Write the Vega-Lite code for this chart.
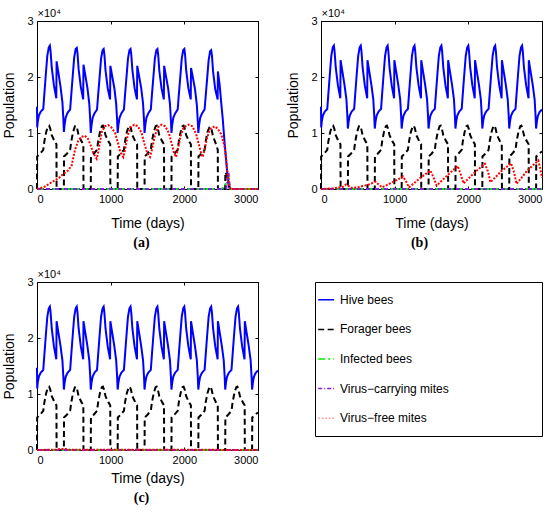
{
"$schema": "https://vega.github.io/schema/vega-lite/v6.json",
"padding": {"left": 2, "top": 7, "right": 0, "bottom": 0},
"config": {
  "font": "Liberation Sans",
  "view": {"stroke": "black", "strokeWidth": 1},
  "axis": {"grid": false, "domain": false, "tickColor": "black", "tickSize": -3, "tickWidth": 1, "labelColor": "black", "labelFont": "Liberation Sans", "labelFontSize": 11, "labelPadding": 7, "titleFont": "Liberation Sans", "titleFontSize": 14, "titleFontWeight": "normal", "titleColor": "black"},
  "axisLeft": {"titlePadding": 10},
  "axisBottom": {"titlePadding": 6}
},
"datasets": {
"leg": [
{"s":"H","label":"Hive bees"},{"s":"F","label":"Forager bees"},{"s":"I","label":"Infected bees"},{"s":"C","label":"Virus−carrying mites"},{"s":"M","label":"Virus−free mites"}
],
"lines": [
{"p":"bc","s":"H","t":0,"v":1.47},{"p":"bc","s":"H","t":3,"v":1.1},{"p":"bc","s":"H","t":10,"v":1.2},{"p":"bc","s":"H","t":25,"v":1.31},{"p":"bc","s":"H","t":50,"v":1.38},{"p":"bc","s":"H","t":85,"v":1.43},{"p":"bc","s":"H","t":100,"v":1.7},{"p":"bc","s":"H","t":120,"v":2.05},{"p":"bc","s":"H","t":140,"v":2.38},{"p":"bc","s":"H","t":160,"v":2.53},{"p":"bc","s":"H","t":175,"v":2.56},{"p":"bc","s":"H","t":185,"v":2.45},{"p":"bc","s":"H","t":200,"v":2.17},{"p":"bc","s":"H","t":230,"v":1.85},{"p":"bc","s":"H","t":262,"v":1.62},{"p":"bc","s":"H","t":266,"v":2.3},{"p":"bc","s":"H","t":290,"v":2.1},{"p":"bc","s":"H","t":320,"v":1.85},{"p":"bc","s":"H","t":345,"v":1.6},{"p":"bc","s":"H","t":358,"v":1.3},
{"p":"bc","s":"H","t":365,"v":1.08},{"p":"bc","s":"H","t":375,"v":1.2},{"p":"bc","s":"H","t":390,"v":1.31},{"p":"bc","s":"H","t":415,"v":1.38},{"p":"bc","s":"H","t":450,"v":1.43},{"p":"bc","s":"H","t":465,"v":1.7},{"p":"bc","s":"H","t":485,"v":2.05},{"p":"bc","s":"H","t":505,"v":2.38},{"p":"bc","s":"H","t":525,"v":2.53},{"p":"bc","s":"H","t":540,"v":2.56},{"p":"bc","s":"H","t":550,"v":2.45},{"p":"bc","s":"H","t":565,"v":2.17},{"p":"bc","s":"H","t":595,"v":1.85},{"p":"bc","s":"H","t":627,"v":1.62},{"p":"bc","s":"H","t":631,"v":2.3},{"p":"bc","s":"H","t":655,"v":2.1},{"p":"bc","s":"H","t":685,"v":1.85},{"p":"bc","s":"H","t":710,"v":1.6},{"p":"bc","s":"H","t":723,"v":1.3},
{"p":"bc","s":"H","t":730,"v":1.08},{"p":"bc","s":"H","t":740,"v":1.2},{"p":"bc","s":"H","t":755,"v":1.31},{"p":"bc","s":"H","t":780,"v":1.38},{"p":"bc","s":"H","t":815,"v":1.43},{"p":"bc","s":"H","t":830,"v":1.7},{"p":"bc","s":"H","t":850,"v":2.05},{"p":"bc","s":"H","t":870,"v":2.38},{"p":"bc","s":"H","t":890,"v":2.53},{"p":"bc","s":"H","t":905,"v":2.56},{"p":"bc","s":"H","t":915,"v":2.45},{"p":"bc","s":"H","t":930,"v":2.17},{"p":"bc","s":"H","t":960,"v":1.85},{"p":"bc","s":"H","t":992,"v":1.62},{"p":"bc","s":"H","t":996,"v":2.3},{"p":"bc","s":"H","t":1020,"v":2.1},{"p":"bc","s":"H","t":1050,"v":1.85},{"p":"bc","s":"H","t":1075,"v":1.6},{"p":"bc","s":"H","t":1088,"v":1.3},
{"p":"bc","s":"H","t":1095,"v":1.08},{"p":"bc","s":"H","t":1105,"v":1.2},{"p":"bc","s":"H","t":1120,"v":1.31},{"p":"bc","s":"H","t":1145,"v":1.38},{"p":"bc","s":"H","t":1180,"v":1.43},{"p":"bc","s":"H","t":1195,"v":1.7},{"p":"bc","s":"H","t":1215,"v":2.05},{"p":"bc","s":"H","t":1235,"v":2.38},{"p":"bc","s":"H","t":1255,"v":2.53},{"p":"bc","s":"H","t":1270,"v":2.56},{"p":"bc","s":"H","t":1280,"v":2.45},{"p":"bc","s":"H","t":1295,"v":2.17},{"p":"bc","s":"H","t":1325,"v":1.85},{"p":"bc","s":"H","t":1357,"v":1.62},{"p":"bc","s":"H","t":1361,"v":2.3},{"p":"bc","s":"H","t":1385,"v":2.1},{"p":"bc","s":"H","t":1415,"v":1.85},{"p":"bc","s":"H","t":1440,"v":1.6},{"p":"bc","s":"H","t":1453,"v":1.3},
{"p":"bc","s":"H","t":1460,"v":1.08},{"p":"bc","s":"H","t":1470,"v":1.2},{"p":"bc","s":"H","t":1485,"v":1.31},{"p":"bc","s":"H","t":1510,"v":1.38},{"p":"bc","s":"H","t":1545,"v":1.43},{"p":"bc","s":"H","t":1560,"v":1.7},{"p":"bc","s":"H","t":1580,"v":2.05},{"p":"bc","s":"H","t":1600,"v":2.38},{"p":"bc","s":"H","t":1620,"v":2.53},{"p":"bc","s":"H","t":1635,"v":2.56},{"p":"bc","s":"H","t":1645,"v":2.45},{"p":"bc","s":"H","t":1660,"v":2.17},{"p":"bc","s":"H","t":1690,"v":1.85},{"p":"bc","s":"H","t":1722,"v":1.62},{"p":"bc","s":"H","t":1726,"v":2.3},{"p":"bc","s":"H","t":1750,"v":2.1},{"p":"bc","s":"H","t":1780,"v":1.85},{"p":"bc","s":"H","t":1805,"v":1.6},{"p":"bc","s":"H","t":1818,"v":1.3},
{"p":"bc","s":"H","t":1825,"v":1.08},{"p":"bc","s":"H","t":1835,"v":1.2},{"p":"bc","s":"H","t":1850,"v":1.31},{"p":"bc","s":"H","t":1875,"v":1.38},{"p":"bc","s":"H","t":1910,"v":1.43},{"p":"bc","s":"H","t":1925,"v":1.7},{"p":"bc","s":"H","t":1945,"v":2.05},{"p":"bc","s":"H","t":1965,"v":2.38},{"p":"bc","s":"H","t":1985,"v":2.53},{"p":"bc","s":"H","t":2000,"v":2.56},{"p":"bc","s":"H","t":2010,"v":2.45},{"p":"bc","s":"H","t":2025,"v":2.17},{"p":"bc","s":"H","t":2055,"v":1.85},{"p":"bc","s":"H","t":2087,"v":1.62},{"p":"bc","s":"H","t":2091,"v":2.3},{"p":"bc","s":"H","t":2115,"v":2.1},{"p":"bc","s":"H","t":2145,"v":1.85},{"p":"bc","s":"H","t":2170,"v":1.6},{"p":"bc","s":"H","t":2183,"v":1.3},
{"p":"bc","s":"H","t":2190,"v":1.08},{"p":"bc","s":"H","t":2200,"v":1.2},{"p":"bc","s":"H","t":2215,"v":1.31},{"p":"bc","s":"H","t":2240,"v":1.38},{"p":"bc","s":"H","t":2275,"v":1.43},{"p":"bc","s":"H","t":2290,"v":1.7},{"p":"bc","s":"H","t":2310,"v":2.05},{"p":"bc","s":"H","t":2330,"v":2.38},{"p":"bc","s":"H","t":2350,"v":2.53},{"p":"bc","s":"H","t":2365,"v":2.56},{"p":"bc","s":"H","t":2375,"v":2.45},{"p":"bc","s":"H","t":2390,"v":2.17},{"p":"bc","s":"H","t":2420,"v":1.85},{"p":"bc","s":"H","t":2452,"v":1.62},{"p":"bc","s":"H","t":2456,"v":2.3},{"p":"bc","s":"H","t":2480,"v":2.1},{"p":"bc","s":"H","t":2510,"v":1.85},{"p":"bc","s":"H","t":2535,"v":1.6},{"p":"bc","s":"H","t":2548,"v":1.3},
{"p":"bc","s":"H","t":2555,"v":1.08},{"p":"bc","s":"H","t":2565,"v":1.2},{"p":"bc","s":"H","t":2580,"v":1.31},{"p":"bc","s":"H","t":2605,"v":1.38},{"p":"bc","s":"H","t":2640,"v":1.43},{"p":"bc","s":"H","t":2655,"v":1.7},{"p":"bc","s":"H","t":2675,"v":2.05},{"p":"bc","s":"H","t":2695,"v":2.38},{"p":"bc","s":"H","t":2715,"v":2.53},{"p":"bc","s":"H","t":2730,"v":2.56},{"p":"bc","s":"H","t":2740,"v":2.45},{"p":"bc","s":"H","t":2755,"v":2.17},{"p":"bc","s":"H","t":2785,"v":1.85},{"p":"bc","s":"H","t":2817,"v":1.62},{"p":"bc","s":"H","t":2821,"v":2.3},{"p":"bc","s":"H","t":2845,"v":2.1},{"p":"bc","s":"H","t":2875,"v":1.85},{"p":"bc","s":"H","t":2900,"v":1.6},{"p":"bc","s":"H","t":2913,"v":1.3},
{"p":"bc","s":"H","t":2920,"v":1.08},{"p":"bc","s":"H","t":2930,"v":1.2},{"p":"bc","s":"H","t":2945,"v":1.31},{"p":"bc","s":"H","t":2970,"v":1.38},{"p":"bc","s":"H","t":3000,"v":1.42},

{"p":"a","s":"H","t":0,"v":1.47},{"p":"a","s":"H","t":3,"v":1.1},{"p":"a","s":"H","t":10,"v":1.2},{"p":"a","s":"H","t":25,"v":1.31},{"p":"a","s":"H","t":50,"v":1.38},{"p":"a","s":"H","t":85,"v":1.43},{"p":"a","s":"H","t":100,"v":1.7},{"p":"a","s":"H","t":120,"v":2.05},{"p":"a","s":"H","t":140,"v":2.38},{"p":"a","s":"H","t":160,"v":2.53},{"p":"a","s":"H","t":175,"v":2.56},{"p":"a","s":"H","t":185,"v":2.45},{"p":"a","s":"H","t":200,"v":2.17},{"p":"a","s":"H","t":230,"v":1.85},{"p":"a","s":"H","t":262,"v":1.62},{"p":"a","s":"H","t":266,"v":2.28},{"p":"a","s":"H","t":290,"v":2.08},{"p":"a","s":"H","t":320,"v":1.82},{"p":"a","s":"H","t":345,"v":1.55},{"p":"a","s":"H","t":358,"v":1.25},
{"p":"a","s":"H","t":365,"v":1.02},{"p":"a","s":"H","t":375,"v":1.15},{"p":"a","s":"H","t":390,"v":1.28},{"p":"a","s":"H","t":415,"v":1.36},{"p":"a","s":"H","t":450,"v":1.42},{"p":"a","s":"H","t":465,"v":1.68},{"p":"a","s":"H","t":485,"v":2.02},{"p":"a","s":"H","t":505,"v":2.35},{"p":"a","s":"H","t":525,"v":2.5},{"p":"a","s":"H","t":540,"v":2.52},{"p":"a","s":"H","t":550,"v":2.42},{"p":"a","s":"H","t":565,"v":2.14},{"p":"a","s":"H","t":595,"v":1.82},{"p":"a","s":"H","t":627,"v":1.6},{"p":"a","s":"H","t":631,"v":2.22},{"p":"a","s":"H","t":655,"v":2.04},{"p":"a","s":"H","t":685,"v":1.8},{"p":"a","s":"H","t":710,"v":1.52},{"p":"a","s":"H","t":723,"v":1.22},
{"p":"a","s":"H","t":730,"v":1.0},{"p":"a","s":"H","t":740,"v":1.14},{"p":"a","s":"H","t":755,"v":1.27},{"p":"a","s":"H","t":780,"v":1.35},{"p":"a","s":"H","t":815,"v":1.42},{"p":"a","s":"H","t":830,"v":1.68},{"p":"a","s":"H","t":850,"v":2.0},{"p":"a","s":"H","t":870,"v":2.33},{"p":"a","s":"H","t":890,"v":2.48},{"p":"a","s":"H","t":905,"v":2.5},{"p":"a","s":"H","t":915,"v":2.4},{"p":"a","s":"H","t":930,"v":2.12},{"p":"a","s":"H","t":960,"v":1.8},{"p":"a","s":"H","t":992,"v":1.6},{"p":"a","s":"H","t":996,"v":2.2},{"p":"a","s":"H","t":1020,"v":2.02},{"p":"a","s":"H","t":1050,"v":1.8},{"p":"a","s":"H","t":1075,"v":1.52},{"p":"a","s":"H","t":1088,"v":1.22},
{"p":"a","s":"H","t":1095,"v":1.0},{"p":"a","s":"H","t":1105,"v":1.14},{"p":"a","s":"H","t":1120,"v":1.27},{"p":"a","s":"H","t":1145,"v":1.35},{"p":"a","s":"H","t":1180,"v":1.42},{"p":"a","s":"H","t":1195,"v":1.68},{"p":"a","s":"H","t":1215,"v":2.0},{"p":"a","s":"H","t":1235,"v":2.33},{"p":"a","s":"H","t":1255,"v":2.48},{"p":"a","s":"H","t":1270,"v":2.5},{"p":"a","s":"H","t":1280,"v":2.4},{"p":"a","s":"H","t":1295,"v":2.12},{"p":"a","s":"H","t":1325,"v":1.8},{"p":"a","s":"H","t":1357,"v":1.6},{"p":"a","s":"H","t":1361,"v":2.2},{"p":"a","s":"H","t":1385,"v":2.02},{"p":"a","s":"H","t":1415,"v":1.8},{"p":"a","s":"H","t":1440,"v":1.52},{"p":"a","s":"H","t":1453,"v":1.22},
{"p":"a","s":"H","t":1460,"v":1.0},{"p":"a","s":"H","t":1470,"v":1.14},{"p":"a","s":"H","t":1485,"v":1.27},{"p":"a","s":"H","t":1510,"v":1.35},{"p":"a","s":"H","t":1545,"v":1.42},{"p":"a","s":"H","t":1560,"v":1.68},{"p":"a","s":"H","t":1580,"v":2.0},{"p":"a","s":"H","t":1600,"v":2.33},{"p":"a","s":"H","t":1620,"v":2.48},{"p":"a","s":"H","t":1635,"v":2.5},{"p":"a","s":"H","t":1645,"v":2.4},{"p":"a","s":"H","t":1660,"v":2.12},{"p":"a","s":"H","t":1690,"v":1.8},{"p":"a","s":"H","t":1722,"v":1.6},{"p":"a","s":"H","t":1726,"v":2.2},{"p":"a","s":"H","t":1750,"v":2.02},{"p":"a","s":"H","t":1780,"v":1.8},{"p":"a","s":"H","t":1805,"v":1.52},{"p":"a","s":"H","t":1818,"v":1.22},
{"p":"a","s":"H","t":1825,"v":1.0},{"p":"a","s":"H","t":1835,"v":1.14},{"p":"a","s":"H","t":1850,"v":1.27},{"p":"a","s":"H","t":1875,"v":1.35},{"p":"a","s":"H","t":1910,"v":1.42},{"p":"a","s":"H","t":1925,"v":1.68},{"p":"a","s":"H","t":1945,"v":2.0},{"p":"a","s":"H","t":1965,"v":2.33},{"p":"a","s":"H","t":1985,"v":2.48},{"p":"a","s":"H","t":2000,"v":2.5},{"p":"a","s":"H","t":2010,"v":2.4},{"p":"a","s":"H","t":2025,"v":2.12},{"p":"a","s":"H","t":2055,"v":1.8},{"p":"a","s":"H","t":2087,"v":1.6},{"p":"a","s":"H","t":2091,"v":2.16},{"p":"a","s":"H","t":2115,"v":2.0},{"p":"a","s":"H","t":2145,"v":1.78},{"p":"a","s":"H","t":2170,"v":1.5},{"p":"a","s":"H","t":2183,"v":1.2},
{"p":"a","s":"H","t":2190,"v":1.0},{"p":"a","s":"H","t":2200,"v":1.14},{"p":"a","s":"H","t":2215,"v":1.27},{"p":"a","s":"H","t":2240,"v":1.35},{"p":"a","s":"H","t":2275,"v":1.42},{"p":"a","s":"H","t":2290,"v":1.66},{"p":"a","s":"H","t":2310,"v":1.98},{"p":"a","s":"H","t":2330,"v":2.3},{"p":"a","s":"H","t":2350,"v":2.46},{"p":"a","s":"H","t":2365,"v":2.48},{"p":"a","s":"H","t":2375,"v":2.38},{"p":"a","s":"H","t":2390,"v":2.1},{"p":"a","s":"H","t":2420,"v":1.78},{"p":"a","s":"H","t":2452,"v":1.6},{"p":"a","s":"H","t":2456,"v":2.1},{"p":"a","s":"H","t":2480,"v":1.85},{"p":"a","s":"H","t":2500,"v":1.55},{"p":"a","s":"H","t":2521,"v":1.26},{"p":"a","s":"H","t":2545,"v":0.85},{"p":"a","s":"H","t":2566,"v":0.54},{"p":"a","s":"H","t":2585,"v":0.25},{"p":"a","s":"H","t":2600,"v":0.08},{"p":"a","s":"H","t":2615,"v":0.01},{"p":"a","s":"H","t":2630,"v":0},{"p":"a","s":"H","t":3000,"v":0},

{"p":"abc","s":"F","t":0,"v":0},{"p":"abc","s":"F","t":2,"v":0.58},{"p":"abc","s":"F","t":40,"v":0.63},{"p":"abc","s":"F","t":85,"v":0.7},{"p":"abc","s":"F","t":100,"v":0.85},{"p":"abc","s":"F","t":125,"v":1.02},{"p":"abc","s":"F","t":150,"v":1.12},{"p":"abc","s":"F","t":165,"v":1.13},{"p":"abc","s":"F","t":180,"v":1.08},{"p":"abc","s":"F","t":200,"v":0.96},{"p":"abc","s":"F","t":240,"v":0.85},{"p":"abc","s":"F","t":264,"v":0.8},{"p":"abc","s":"F","t":266,"v":0},
{"p":"abc","s":"F","t":365,"v":0},{"p":"abc","s":"F","t":367,"v":0.58},{"p":"abc","s":"F","t":405,"v":0.63},{"p":"abc","s":"F","t":450,"v":0.7},{"p":"abc","s":"F","t":465,"v":0.85},{"p":"abc","s":"F","t":490,"v":1.02},{"p":"abc","s":"F","t":515,"v":1.12},{"p":"abc","s":"F","t":530,"v":1.13},{"p":"abc","s":"F","t":545,"v":1.08},{"p":"abc","s":"F","t":565,"v":0.96},{"p":"abc","s":"F","t":605,"v":0.85},{"p":"abc","s":"F","t":629,"v":0.8},{"p":"abc","s":"F","t":631,"v":0},
{"p":"abc","s":"F","t":730,"v":0},{"p":"abc","s":"F","t":732,"v":0.58},{"p":"abc","s":"F","t":770,"v":0.63},{"p":"abc","s":"F","t":815,"v":0.7},{"p":"abc","s":"F","t":830,"v":0.85},{"p":"abc","s":"F","t":855,"v":1.02},{"p":"abc","s":"F","t":880,"v":1.12},{"p":"abc","s":"F","t":895,"v":1.13},{"p":"abc","s":"F","t":910,"v":1.08},{"p":"abc","s":"F","t":930,"v":0.96},{"p":"abc","s":"F","t":970,"v":0.85},{"p":"abc","s":"F","t":994,"v":0.8},{"p":"abc","s":"F","t":996,"v":0},
{"p":"abc","s":"F","t":1095,"v":0},{"p":"abc","s":"F","t":1097,"v":0.58},{"p":"abc","s":"F","t":1135,"v":0.63},{"p":"abc","s":"F","t":1180,"v":0.7},{"p":"abc","s":"F","t":1195,"v":0.85},{"p":"abc","s":"F","t":1220,"v":1.02},{"p":"abc","s":"F","t":1245,"v":1.12},{"p":"abc","s":"F","t":1260,"v":1.13},{"p":"abc","s":"F","t":1275,"v":1.08},{"p":"abc","s":"F","t":1295,"v":0.96},{"p":"abc","s":"F","t":1335,"v":0.85},{"p":"abc","s":"F","t":1359,"v":0.8},{"p":"abc","s":"F","t":1361,"v":0},
{"p":"abc","s":"F","t":1460,"v":0},{"p":"abc","s":"F","t":1462,"v":0.58},{"p":"abc","s":"F","t":1500,"v":0.63},{"p":"abc","s":"F","t":1545,"v":0.7},{"p":"abc","s":"F","t":1560,"v":0.85},{"p":"abc","s":"F","t":1585,"v":1.02},{"p":"abc","s":"F","t":1610,"v":1.12},{"p":"abc","s":"F","t":1625,"v":1.13},{"p":"abc","s":"F","t":1640,"v":1.08},{"p":"abc","s":"F","t":1660,"v":0.96},{"p":"abc","s":"F","t":1700,"v":0.85},{"p":"abc","s":"F","t":1724,"v":0.8},{"p":"abc","s":"F","t":1726,"v":0},
{"p":"abc","s":"F","t":1825,"v":0},{"p":"abc","s":"F","t":1827,"v":0.58},{"p":"abc","s":"F","t":1865,"v":0.63},{"p":"abc","s":"F","t":1910,"v":0.7},{"p":"abc","s":"F","t":1925,"v":0.85},{"p":"abc","s":"F","t":1950,"v":1.02},{"p":"abc","s":"F","t":1975,"v":1.12},{"p":"abc","s":"F","t":1990,"v":1.13},{"p":"abc","s":"F","t":2005,"v":1.08},{"p":"abc","s":"F","t":2025,"v":0.96},{"p":"abc","s":"F","t":2065,"v":0.85},{"p":"abc","s":"F","t":2089,"v":0.8},{"p":"abc","s":"F","t":2091,"v":0},
{"p":"bc","s":"F","t":2190,"v":0},{"p":"bc","s":"F","t":2192,"v":0.58},{"p":"bc","s":"F","t":2230,"v":0.63},{"p":"bc","s":"F","t":2275,"v":0.7},{"p":"bc","s":"F","t":2290,"v":0.85},{"p":"bc","s":"F","t":2315,"v":1.02},{"p":"bc","s":"F","t":2340,"v":1.12},{"p":"bc","s":"F","t":2355,"v":1.13},{"p":"bc","s":"F","t":2370,"v":1.08},{"p":"bc","s":"F","t":2390,"v":0.96},{"p":"bc","s":"F","t":2430,"v":0.85},{"p":"bc","s":"F","t":2454,"v":0.8},{"p":"bc","s":"F","t":2456,"v":0},
{"p":"bc","s":"F","t":2555,"v":0},{"p":"bc","s":"F","t":2557,"v":0.58},{"p":"bc","s":"F","t":2595,"v":0.63},{"p":"bc","s":"F","t":2640,"v":0.7},{"p":"bc","s":"F","t":2655,"v":0.85},{"p":"bc","s":"F","t":2680,"v":1.02},{"p":"bc","s":"F","t":2705,"v":1.12},{"p":"bc","s":"F","t":2720,"v":1.13},{"p":"bc","s":"F","t":2735,"v":1.08},{"p":"bc","s":"F","t":2755,"v":0.96},{"p":"bc","s":"F","t":2795,"v":0.85},{"p":"bc","s":"F","t":2819,"v":0.8},{"p":"bc","s":"F","t":2821,"v":0},
{"p":"bc","s":"F","t":2920,"v":0},{"p":"bc","s":"F","t":2922,"v":0.58},{"p":"bc","s":"F","t":2960,"v":0.63},{"p":"bc","s":"F","t":3000,"v":0.67},
{"p":"a","s":"F","t":2190,"v":0},{"p":"a","s":"F","t":2192,"v":0.58},{"p":"a","s":"F","t":2230,"v":0.63},{"p":"a","s":"F","t":2275,"v":0.7},{"p":"a","s":"F","t":2290,"v":0.85},{"p":"a","s":"F","t":2315,"v":1.02},{"p":"a","s":"F","t":2340,"v":1.1},{"p":"a","s":"F","t":2355,"v":1.11},{"p":"a","s":"F","t":2370,"v":1.06},{"p":"a","s":"F","t":2390,"v":0.94},{"p":"a","s":"F","t":2430,"v":0.8},{"p":"a","s":"F","t":2454,"v":0.7},{"p":"a","s":"F","t":2456,"v":0},
{"p":"a","s":"F","t":2555,"v":0},{"p":"a","s":"F","t":2557,"v":0.3},{"p":"a","s":"F","t":2585,"v":0.22},{"p":"a","s":"F","t":2610,"v":0.05},{"p":"a","s":"F","t":2625,"v":0},{"p":"a","s":"F","t":3000,"v":0},

{"p":"bc","s":"I","t":0,"v":0},{"p":"bc","s":"I","t":3000,"v":0},
{"p":"a","s":"I","t":0,"v":0},{"p":"a","s":"I","t":2500,"v":0},{"p":"a","s":"I","t":2540,"v":0.03},{"p":"a","s":"I","t":2570,"v":0.12},{"p":"a","s":"I","t":2600,"v":0.22},{"p":"a","s":"I","t":2612,"v":0.05},{"p":"a","s":"I","t":2625,"v":0},{"p":"a","s":"I","t":3000,"v":0},

{"p":"bc","s":"C","t":0,"v":0},{"p":"bc","s":"C","t":3000,"v":0},
{"p":"a","s":"C","t":0,"v":0},{"p":"a","s":"C","t":2570,"v":0},{"p":"a","s":"C","t":2590,"v":0.28},{"p":"a","s":"C","t":2600,"v":0.3},{"p":"a","s":"C","t":2612,"v":0.1},{"p":"a","s":"C","t":2625,"v":0},{"p":"a","s":"C","t":3000,"v":0},

{"p":"a","s":"M","t":0,"v":0},{"p":"a","s":"M","t":100,"v":0.04},{"p":"a","s":"M","t":200,"v":0.12},{"p":"a","s":"M","t":300,"v":0.2},{"p":"a","s":"M","t":350,"v":0.26},{"p":"a","s":"M","t":420,"v":0.33},{"p":"a","s":"M","t":470,"v":0.42},{"p":"a","s":"M","t":516,"v":0.7},{"p":"a","s":"M","t":560,"v":0.86},{"p":"a","s":"M","t":600,"v":0.93},{"p":"a","s":"M","t":650,"v":0.95},{"p":"a","s":"M","t":690,"v":0.9},{"p":"a","s":"M","t":720,"v":0.81},{"p":"a","s":"M","t":760,"v":0.66},{"p":"a","s":"M","t":790,"v":0.58},{"p":"a","s":"M","t":810,"v":0.54},{"p":"a","s":"M","t":825,"v":0.62},{"p":"a","s":"M","t":850,"v":0.8},{"p":"a","s":"M","t":880,"v":1.02},{"p":"a","s":"M","t":920,"v":1.12},{"p":"a","s":"M","t":968,"v":1.14},{"p":"a","s":"M","t":1010,"v":1.1},{"p":"a","s":"M","t":1060,"v":1.0},{"p":"a","s":"M","t":1100,"v":0.82},{"p":"a","s":"M","t":1130,"v":0.66},{"p":"a","s":"M","t":1172,"v":0.57},{"p":"a","s":"M","t":1195,"v":0.7},{"p":"a","s":"M","t":1230,"v":0.95},{"p":"a","s":"M","t":1270,"v":1.1},{"p":"a","s":"M","t":1320,"v":1.15},{"p":"a","s":"M","t":1370,"v":1.12},{"p":"a","s":"M","t":1420,"v":1.0},{"p":"a","s":"M","t":1460,"v":0.8},{"p":"a","s":"M","t":1500,"v":0.63},{"p":"a","s":"M","t":1534,"v":0.57},{"p":"a","s":"M","t":1560,"v":0.7},{"p":"a","s":"M","t":1600,"v":0.95},{"p":"a","s":"M","t":1640,"v":1.1},{"p":"a","s":"M","t":1690,"v":1.15},{"p":"a","s":"M","t":1740,"v":1.12},{"p":"a","s":"M","t":1790,"v":1.0},{"p":"a","s":"M","t":1830,"v":0.8},{"p":"a","s":"M","t":1860,"v":0.65},{"p":"a","s":"M","t":1887,"v":0.57},{"p":"a","s":"M","t":1910,"v":0.7},{"p":"a","s":"M","t":1950,"v":0.95},{"p":"a","s":"M","t":1990,"v":1.1},{"p":"a","s":"M","t":2060,"v":1.15},{"p":"a","s":"M","t":2110,"v":1.12},{"p":"a","s":"M","t":2160,"v":0.98},{"p":"a","s":"M","t":2200,"v":0.78},{"p":"a","s":"M","t":2230,"v":0.63},{"p":"a","s":"M","t":2249,"v":0.57},{"p":"a","s":"M","t":2270,"v":0.68},{"p":"a","s":"M","t":2310,"v":0.92},{"p":"a","s":"M","t":2350,"v":1.07},{"p":"a","s":"M","t":2410,"v":1.12},{"p":"a","s":"M","t":2450,"v":1.08},{"p":"a","s":"M","t":2500,"v":0.98},{"p":"a","s":"M","t":2543,"v":0.78},{"p":"a","s":"M","t":2566,"v":0.54},{"p":"a","s":"M","t":2589,"v":0.24},{"p":"a","s":"M","t":2611,"v":0.06},{"p":"a","s":"M","t":2630,"v":0},{"p":"a","s":"M","t":3000,"v":0},

{"p":"b","s":"M","t":0,"v":0},{"p":"b","s":"M","t":150,"v":0.01},{"p":"b","s":"M","t":300,"v":0.04},{"p":"b","s":"M","t":340,"v":0.08},{"p":"b","s":"M","t":380,"v":0.05},{"p":"b","s":"M","t":420,"v":0.02},{"p":"b","s":"M","t":500,"v":0.03},{"p":"b","s":"M","t":650,"v":0.08},{"p":"b","s":"M","t":740,"v":0.13},{"p":"b","s":"M","t":790,"v":0.07},{"p":"b","s":"M","t":830,"v":0.03},{"p":"b","s":"M","t":1000,"v":0.14},{"p":"b","s":"M","t":1115,"v":0.22},{"p":"b","s":"M","t":1160,"v":0.12},{"p":"b","s":"M","t":1195,"v":0.03},{"p":"b","s":"M","t":1350,"v":0.2},{"p":"b","s":"M","t":1485,"v":0.33},{"p":"b","s":"M","t":1530,"v":0.2},{"p":"b","s":"M","t":1570,"v":0.06},{"p":"b","s":"M","t":1720,"v":0.25},{"p":"b","s":"M","t":1855,"v":0.41},{"p":"b","s":"M","t":1900,"v":0.25},{"p":"b","s":"M","t":1935,"v":0.1},{"p":"b","s":"M","t":2090,"v":0.3},{"p":"b","s":"M","t":2225,"v":0.45},{"p":"b","s":"M","t":2270,"v":0.3},{"p":"b","s":"M","t":2300,"v":0.12},{"p":"b","s":"M","t":2450,"v":0.32},{"p":"b","s":"M","t":2580,"v":0.46},{"p":"b","s":"M","t":2620,"v":0.3},{"p":"b","s":"M","t":2655,"v":0.09},{"p":"b","s":"M","t":2800,"v":0.33},{"p":"b","s":"M","t":2950,"v":0.51},{"p":"b","s":"M","t":2980,"v":0.35},{"p":"b","s":"M","t":3000,"v":0.2},

{"p":"c","s":"M","t":0,"v":0},{"p":"c","s":"M","t":250,"v":0.005},{"p":"c","s":"M","t":330,"v":0.02},{"p":"c","s":"M","t":380,"v":0.02},{"p":"c","s":"M","t":430,"v":0.005},{"p":"c","s":"M","t":700,"v":0.003},{"p":"c","s":"M","t":3000,"v":0.002}
]
},
"vconcat": [
 {"hconcat": [
  {"width": 221, "height": 168, "data": {"name": "lines"},
   "title": {"text": "(a)", "orient": "bottom", "font": "Liberation Serif", "fontSize": 14, "fontWeight": "bold", "color": "black", "offset": 6, "dx": -6},
   "transform": [{"filter": "indexof(datum.p, 'a') >= 0"}],
   "layer": [
    {"mark": {"type": "line", "strokeWidth": 2, "clip": false},
     "encoding": {
      "x": {"field": "t", "type": "quantitative", "scale": {"domain": [0, 3000], "nice": false}, "axis": {"orient": "bottom", "values": [0, 1000, 2000, 3000], "format": "d", "title": "Time (days)", "titlePadding": 12}},
      "y": {"field": "v", "type": "quantitative", "scale": {"domain": [0, 3], "nice": false}, "axis": {"orient": "left", "values": [0, 1, 2, 3], "format": "d", "title": "Population"}},
      "color": {"field": "s", "type": "nominal", "scale": {"domain": ["H", "F", "I", "C", "M"], "range": ["#0000ff", "#000000", "#00ee00", "#8020e0", "#ff0000"]}, "legend": null},
      "strokeDash": {"field": "s", "type": "nominal", "scale": {"domain": ["H", "F", "I", "C", "M"], "range": [[1, 0], [6, 3.5], [7, 3, 2, 3], [4, 2, 1, 2], [2, 1.5]]}, "legend": null}
     }},
    {"transform": [{"filter": "datum.t == 0"}], "mark": {"type": "point", "opacity": 0},
     "encoding": {
      "x": {"field": "t", "type": "quantitative", "axis": {"orient": "top", "values": [0, 1000, 2000, 3000], "labels": false, "title": "×10⁴", "titleAnchor": "start", "titleAlign": "left", "titleFontSize": 11, "titlePadding": 2}},
      "y": {"field": "v", "type": "quantitative", "axis": {"orient": "right", "values": [0, 1, 2, 3], "labels": false, "title": null}}
     }}
   ],
   "resolve": {"axis": {"x": "independent", "y": "independent"}}
  },
  {"width": 221, "height": 168, "data": {"name": "lines"},
   "title": {"text": "(b)", "orient": "bottom", "font": "Liberation Serif", "fontSize": 14, "fontWeight": "bold", "color": "black", "offset": 6, "dx": -12},
   "transform": [{"filter": "indexof(datum.p, 'b') >= 0"}],
   "layer": [
    {"mark": {"type": "line", "strokeWidth": 2, "clip": false},
     "encoding": {
      "x": {"field": "t", "type": "quantitative", "scale": {"domain": [0, 3000], "nice": false}, "axis": {"orient": "bottom", "values": [0, 1000, 2000, 3000], "format": "d", "title": "Time (days)", "titlePadding": 12}},
      "y": {"field": "v", "type": "quantitative", "scale": {"domain": [0, 3], "nice": false}, "axis": {"orient": "left", "values": [0, 1, 2, 3], "format": "d", "title": "Population"}},
      "color": {"field": "s", "type": "nominal", "scale": {"domain": ["H", "F", "I", "C", "M"], "range": ["#0000ff", "#000000", "#00ee00", "#8020e0", "#ff0000"]}, "legend": null},
      "strokeDash": {"field": "s", "type": "nominal", "scale": {"domain": ["H", "F", "I", "C", "M"], "range": [[1, 0], [6, 3.5], [7, 3, 2, 3], [4, 2, 1, 2], [2, 1.5]]}, "legend": null}
     }},
    {"transform": [{"filter": "datum.t == 0"}], "mark": {"type": "point", "opacity": 0},
     "encoding": {
      "x": {"field": "t", "type": "quantitative", "axis": {"orient": "top", "values": [0, 1000, 2000, 3000], "labels": false, "title": "×10⁴", "titleAnchor": "start", "titleAlign": "left", "titleFontSize": 11, "titlePadding": 2}},
      "y": {"field": "v", "type": "quantitative", "axis": {"orient": "right", "values": [0, 1, 2, 3], "labels": false, "title": null}}
     }}
   ],
   "resolve": {"axis": {"x": "independent", "y": "independent"}}
  }
 ], "spacing": 63, "bounds": "flush"},
 {"hconcat": [
  {"width": 221, "height": 168, "data": {"name": "lines"},
   "title": {"text": "(c)", "orient": "bottom", "font": "Liberation Serif", "fontSize": 14, "fontWeight": "bold", "color": "black", "offset": 6, "dx": -6},
   "transform": [{"filter": "indexof(datum.p, 'c') >= 0"}],
   "layer": [
    {"mark": {"type": "line", "strokeWidth": 2, "clip": false},
     "encoding": {
      "x": {"field": "t", "type": "quantitative", "scale": {"domain": [0, 3000], "nice": false}, "axis": {"orient": "bottom", "values": [0, 1000, 2000, 3000], "format": "d", "title": "Time (days)"}},
      "y": {"field": "v", "type": "quantitative", "scale": {"domain": [0, 3], "nice": false}, "axis": {"orient": "left", "values": [0, 1, 2, 3], "format": "d", "title": "Population"}},
      "color": {"field": "s", "type": "nominal", "scale": {"domain": ["H", "F", "I", "C", "M"], "range": ["#0000ff", "#000000", "#00ee00", "#8020e0", "#ff0000"]}, "legend": null},
      "strokeDash": {"field": "s", "type": "nominal", "scale": {"domain": ["H", "F", "I", "C", "M"], "range": [[1, 0], [6, 3.5], [7, 3, 2, 3], [4, 2, 1, 2], [2, 1.5]]}, "legend": null}
     }},
    {"transform": [{"filter": "datum.t == 0"}], "mark": {"type": "point", "opacity": 0},
     "encoding": {
      "x": {"field": "t", "type": "quantitative", "axis": {"orient": "top", "values": [0, 1000, 2000, 3000], "labels": false, "title": "×10⁴", "titleAnchor": "start", "titleAlign": "left", "titleFontSize": 11, "titlePadding": 2}},
      "y": {"field": "v", "type": "quantitative", "axis": {"orient": "right", "values": [0, 1, 2, 3], "labels": false, "title": null}}
     }}
   ],
   "resolve": {"axis": {"x": "independent", "y": "independent"}}
  },
  {"width": 227, "height": 154, "data": {"name": "leg"},
   "layer": [
    {"mark": {"type": "rule", "strokeWidth": 1.5},
     "encoding": {
      "y": {"field": "s", "type": "nominal", "scale": {"type": "point", "domain": ["H", "F", "I", "C", "M"], "padding": 0.6, "align": 0.5}, "axis": null},
      "x": {"datum": 1.4, "type": "quantitative", "scale": {"domain": [0, 100], "nice": false}, "axis": null},
      "x2": {"datum": 8.4},
      "color": {"field": "s", "type": "nominal", "legend": null},
      "strokeDash": {"field": "s", "type": "nominal", "legend": null},
      "opacity": {"field": "s", "type": "nominal", "scale": {"type": "ordinal", "domain": ["H", "F", "I", "C", "M"], "range": [1, 1, 1, 1, 0.35]}, "legend": null}
     }},
    {"mark": {"type": "text", "align": "left", "baseline": "middle", "fontSize": 12, "font": "Liberation Sans", "color": "black"},
     "encoding": {
      "y": {"field": "s", "type": "nominal", "axis": null},
      "x": {"datum": 11, "type": "quantitative"},
      "text": {"field": "label"}
     }}
   ]
  }
 ], "spacing": 57, "bounds": "flush"}
],
"spacing": 17
}
